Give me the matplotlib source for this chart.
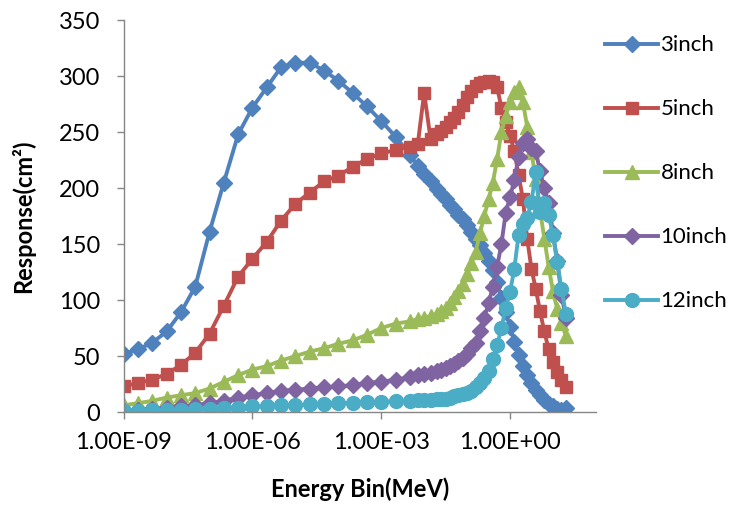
import matplotlib
matplotlib.use("Agg")
import matplotlib.pyplot as plt

# Energy bins (MeV)
energy = [1.00e-9, 2.15e-9, 4.64e-9, 1.00e-8, 2.15e-8, 4.64e-8, 1.00e-7, 2.15e-7, 4.64e-7,
          1.00e-6, 2.15e-6, 4.64e-6, 1.00e-5, 2.15e-5, 4.64e-5, 1.00e-4, 2.15e-4, 4.64e-4,
          1.00e-3, 2.15e-3, 4.64e-3, 7.08e-3, 1.00e-2, 1.41e-2, 2.00e-2, 2.51e-2, 3.16e-2,
          3.98e-2, 5.01e-2, 6.31e-2, 7.94e-2, 1.00e-1, 1.26e-1, 1.58e-1, 2.00e-1, 2.51e-1,
          3.16e-1, 3.98e-1, 5.01e-1, 6.31e-1, 7.94e-1, 1.00, 1.26, 1.58, 2.00, 2.51,
          3.16, 3.98, 5.01, 6.31, 7.94, 10.0, 12.6, 15.8, 20.0]

resp_3inch = [52, 56, 62, 72, 89, 112, 161, 205, 248, 272, 290, 308, 312, 312, 305, 296, 285, 273,
              260, 246, 230, 220, 213, 206, 199, 195, 190, 185, 181, 176, 172, 167, 161, 155, 149,
              142, 135, 127, 116, 102, 89, 76, 63, 51, 41, 33, 26, 20, 15, 11, 7, 5, 3, 2, 4]
resp_5inch = [23, 26, 29, 34, 42, 53, 70, 95, 121, 137, 152, 171, 186, 196, 206, 211, 219, 226,
              231, 234, 237, 239, 285, 244, 248, 251, 255, 259, 263, 268, 274, 281, 287, 291, 294,
              295, 296, 295, 290, 272, 259, 247, 233, 212, 190, 155, 128, 110, 90, 72, 56, 45, 36, 29, 22]
resp_8inch = [6, 8, 10, 13, 15, 17, 21, 27, 33, 38, 41, 46, 50, 54, 57, 61, 64, 69,
              75, 79, 81, 83, 84, 86, 88, 90, 93, 97, 103, 108, 114, 123, 133, 143, 160,
              175, 190, 205, 226, 250, 264, 277, 286, 290, 277, 255, 232, 208, 180, 155, 130, 108, 92, 80, 68]
resp_10inch = [1, 2, 3, 4, 5, 6, 8, 10, 13, 15, 17, 19, 20, 21, 22, 23, 24, 26,
               27, 29, 31, 33, 34, 35, 37, 38, 39, 41, 43, 46, 48, 52, 57, 62, 72,
               84, 97, 112, 130, 150, 178, 192, 207, 228, 240, 244, 236, 233, 215, 200, 187, 160, 135, 105, 84]
resp_12inch = [1, 1, 2, 2, 2, 3, 3, 4, 4, 5, 5, 6, 6, 7, 7, 8, 8, 9,
               9, 10, 10, 11, 11, 11, 12, 12, 12, 13, 14, 15, 16, 17, 19, 22, 26,
               30, 37, 47, 60, 75, 93, 107, 128, 158, 168, 173, 188, 214, 179, 187, 176, 158, 134, 110, 88]

labels = ["3inch", "5inch", "8inch", "10inch", "12inch"]
colors = ["#4F81BD", "#C0504D", "#9BBB59", "#8064A2", "#4BACC6"]
markers = ["D", "s", "^", "D", "o"]
msizes = [8.5, 8.5, 10, 8.5, 10]
series = [resp_3inch, resp_5inch, resp_8inch, resp_10inch, resp_12inch]

xticks = [1e-9, 1e-6, 1e-3, 1e0]
xticklabels = ["1.00E-09", "1.00E-06", "1.00E-03", "1.00E+00"]
yticks = [0, 50, 100, 150, 200, 250, 300, 350]

FONT = ["Lato", "DejaVu Sans"]
plt.rcParams["font.family"] = FONT

fig = plt.figure(figsize=(7.32, 5.05), dpi=100)
ax = fig.add_axes([0.169, 0.184, 0.645, 0.776])

for y, lab, c, m, ms in zip(series, labels, colors, markers, msizes):
    ax.plot(energy, y, color=c, marker=m, markersize=ms, linewidth=2.8,
            markeredgecolor=c, markerfacecolor=c, label=lab, solid_joinstyle="round")

ax.set_xscale("log")
ax.set_xlim(1e-9, 1e2)
ax.set_ylim(0, 350)
ax.set_xticks(xticks)
ax.set_xticklabels(xticklabels)
ax.minorticks_off()
ax.set_yticks(yticks)
ax.tick_params(axis="both", labelsize=17, color="#868686", length=5, width=1, direction="out")
ax.tick_params(axis="x", pad=9)
ax.tick_params(axis="y", pad=12)
for s in ["top", "right"]:
    ax.spines[s].set_visible(False)
for s in ["left", "bottom"]:
    ax.spines[s].set_color("#868686")
    ax.spines[s].set_linewidth(1)

ax.set_xlabel("Energy Bin(MeV)", fontsize=17, fontweight="bold", labelpad=18)
ax.set_ylabel("Response(cm²)", fontsize=17, fontweight="bold", labelpad=17)

leg = fig.legend(loc="upper left", bbox_to_anchor=(0.812, 0.952), frameon=False,
                 fontsize=16, handlelength=2.35, labelspacing=1.98, handletextpad=0.12,
                 borderpad=0)

fig.savefig("out.png", dpi=100)
